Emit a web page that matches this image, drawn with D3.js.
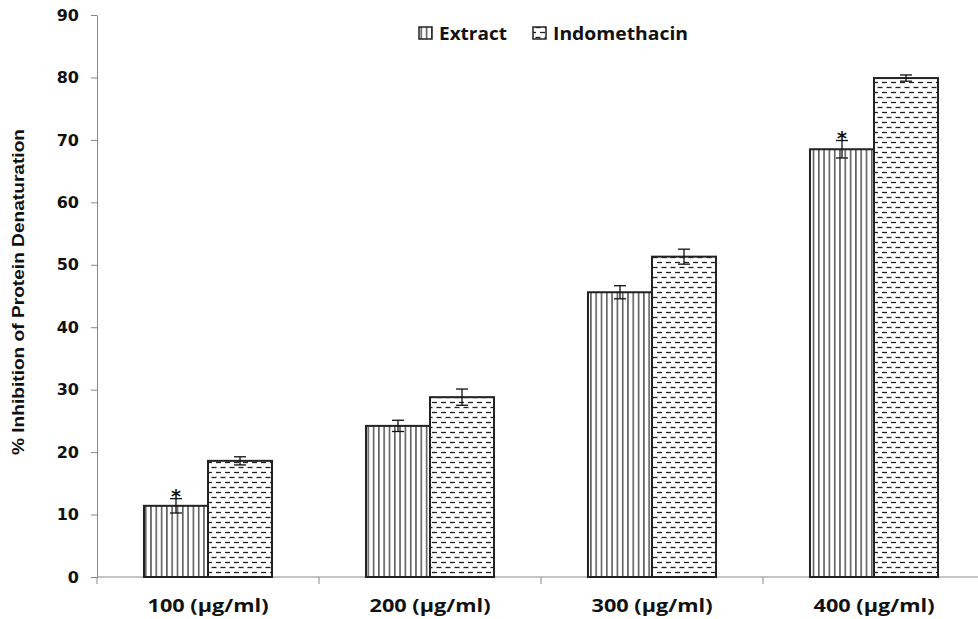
<!DOCTYPE html>
<html>
<head>
<meta charset="utf-8">
<script src="https://cdn.jsdelivr.net/npm/d3@7"></script>
<style>
  body { margin: 0; background: #fff; }
  svg { display: block; }
</style>
</head>
<body>
<div id="chart"></div>
<script>
// Data
const categories = ['100 (µg/ml)', '200 (µg/ml)', '300 (µg/ml)', '400 (µg/ml)'];
const series = ['Extract', 'Indomethacin'];
const extractVals = [11.4, 24.2, 45.6, 68.5];
const extractErr = [1.15, 0.9, 1.05, 1.4];
const indoVals = [18.6, 28.8, 51.3, 79.9];
const indoErr = [0.65, 1.3, 1.2, 0.5];
const starred = [true, false, false, true]; // extract only
const yTicks = [0, 10, 20, 30, 40, 50, 60, 70, 80, 90];

const W = 978;
const H = 619;
const margin = { l: 97, t: 15, r: -7, b: 42 };

const rows = categories.flatMap((c, i) => [
  { cat: c, s: 'Extract', v: extractVals[i], e: extractErr[i], star: starred[i] },
  { cat: c, s: 'Indomethacin', v: indoVals[i], e: indoErr[i], star: false },
]);

const svg = d3.select('#chart').append('svg').attr('width', W).attr('height', H);

// patterns
const defs = svg.append('defs');
const pV = defs.append('pattern').attr('id', 'pat-ext').attr('patternUnits', 'userSpaceOnUse')
  .attr('width', 5.3).attr('height', 10);
pV.append('rect').attr('width', 5.3).attr('height', 10).attr('fill', '#fff');
pV.append('line').attr('x1', 2.6).attr('x2', 2.6).attr('y1', 0).attr('y2', 10)
  .attr('stroke', '#111').attr('stroke-width', 1.1);

const pH = defs.append('pattern').attr('id', 'pat-indo').attr('patternUnits', 'userSpaceOnUse')
  .attr('width', 9).attr('height', 10);
pH.append('rect').attr('width', 9).attr('height', 10).attr('fill', '#fff');
pH.append('line').attr('x1', 0).attr('x2', 5).attr('y1', 2.5).attr('y2', 2.5)
  .attr('stroke', '#222').attr('stroke-width', 1.3);
pH.append('line').attr('x1', 4.5).attr('x2', 9.5).attr('y1', 7.5).attr('y2', 7.5)
  .attr('stroke', '#222').attr('stroke-width', 1.3);
pH.append('line').attr('x1', -0.5).attr('x2', 0.5).attr('y1', 7.5).attr('y2', 7.5)
  .attr('stroke', '#222').attr('stroke-width', 1.3);

const fill = { Extract: 'url(#pat-ext)', Indomethacin: 'url(#pat-indo)' };

// scales
const x = d3.scaleBand().domain(categories).range([margin.l, W - margin.r]).padding(0);
const xs = d3.scaleBand().domain(series).range([0, x.bandwidth()])
  .paddingInner(0).paddingOuter(0.734);
const y = d3.scaleLinear().domain([0, 90]).range([H - margin.b, margin.t]);

// y axis
const yAxis = svg.append('g')
  .attr('transform', `translate(${margin.l},0)`)
  .call(d3.axisLeft(y).tickValues(yTicks).tickSize(6).tickPadding(12).tickSizeOuter(0));
yAxis.select('.domain').attr('stroke', '#888');
yAxis.selectAll('.tick line').attr('stroke', '#888');
yAxis.selectAll('.tick text')
  .attr('font-family', 'DejaVu Sans, Verdana, sans-serif')
  .attr('font-weight', 'bold').attr('font-size', 16).attr('fill', '#111');

// x axis (ticks at category boundaries)
const xAxis = svg.append('g').attr('transform', `translate(0,${y(0)})`);
xAxis.append('line').attr('x1', margin.l).attr('x2', W).attr('stroke', '#888');
const bounds = categories.map((c) => x(c)).concat([x(categories[3]) + x.bandwidth()]);
xAxis.selectAll('.btick').data(bounds).join('line')
  .attr('class', 'btick')
  .attr('x1', (d) => d).attr('x2', (d) => d).attr('y1', 0).attr('y2', 7)
  .attr('stroke', '#888');
xAxis.selectAll('.xlab').data(categories).join('text')
  .attr('class', 'xlab')
  .attr('x', (d) => x(d) + x.bandwidth() / 2)
  .attr('y', 35)
  .attr('text-anchor', 'middle')
  .attr('font-family', 'Open Sans, sans-serif').attr('font-weight', 'bold')
  .attr('font-size', 17).attr('fill', '#111')
  .attr('textLength', 121).attr('lengthAdjust', 'spacingAndGlyphs')
  .text((d) => d);

// bars
svg.append('g').selectAll('rect').data(rows).join('rect')
  .attr('x', (d) => x(d.cat) + xs(d.s))
  .attr('y', (d) => y(d.v))
  .attr('width', xs.bandwidth())
  .attr('height', (d) => y(0) - y(d.v))
  .attr('fill', (d) => fill[d.s])
  .attr('stroke', '#222').attr('stroke-width', 2);

// error bars
const eg = svg.append('g').attr('stroke', '#111').attr('stroke-width', 1.3);
const cx = (d) => x(d.cat) + xs(d.s) + xs.bandwidth() / 2;
eg.selectAll('.ev').data(rows).join('line').attr('class', 'ev')
  .attr('x1', cx).attr('x2', cx)
  .attr('y1', (d) => y(d.v + d.e)).attr('y2', (d) => y(d.v - d.e));
eg.selectAll('.et').data(rows).join('line').attr('class', 'et')
  .attr('x1', (d) => cx(d) - 6).attr('x2', (d) => cx(d) + 6)
  .attr('y1', (d) => y(d.v + d.e)).attr('y2', (d) => y(d.v + d.e));
eg.selectAll('.eb').data(rows).join('line').attr('class', 'eb')
  .attr('x1', (d) => cx(d) - 6).attr('x2', (d) => cx(d) + 6)
  .attr('y1', (d) => y(d.v - d.e)).attr('y2', (d) => y(d.v - d.e));

// significance stars
svg.append('g').selectAll('text').data(rows.filter((d) => d.star)).join('text')
  .attr('x', cx)
  .attr('y', (d) => y(d.v + d.e) + 4)
  .attr('text-anchor', 'middle')
  .attr('font-family', 'DejaVu Sans, sans-serif').attr('font-weight', 'bold')
  .attr('font-size', 19).attr('fill', '#111')
  .text('*');

// y axis title
svg.append('text')
  .attr('transform', `translate(24, ${(y(0) + y(90)) / 2 - 4}) rotate(-90)`)
  .attr('text-anchor', 'middle')
  .attr('font-family', 'Liberation Sans Narrow, Liberation Sans, Arial, sans-serif')
  .attr('font-weight', 'bold').attr('font-size', 17).attr('fill', '#111')
  .attr('textLength', 326).attr('lengthAdjust', 'spacingAndGlyphs')
  .text('% Inhibition of Protein Denaturation');

// legend
const legendX = [419, 533];
const legendW = [68, 135];
const lg = svg.append('g');
series.forEach((s, i) => {
  lg.append('rect')
    .attr('x', legendX[i]).attr('y', 27).attr('width', 13).attr('height', 12)
    .attr('fill', fill[s]).attr('stroke', '#222').attr('stroke-width', 1.5);
  lg.append('text')
    .attr('x', legendX[i] + 20).attr('y', 40)
    .attr('font-family', 'Open Sans, sans-serif').attr('font-weight', 'bold')
    .attr('font-size', 17).attr('fill', '#111')
    .attr('textLength', legendW[i]).attr('lengthAdjust', 'spacingAndGlyphs')
    .text(s);
});
</script>
</body>
</html>
